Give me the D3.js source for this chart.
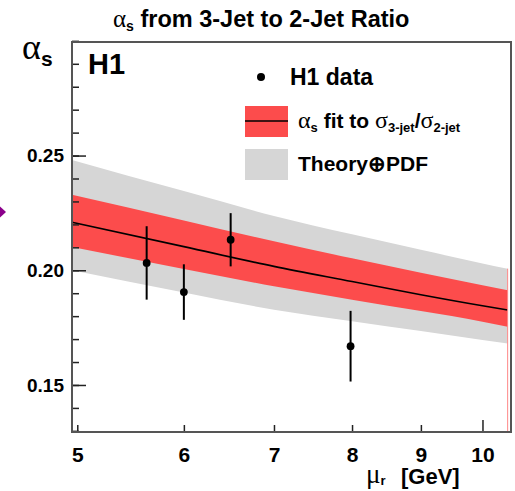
<!DOCTYPE html>
<html>
<head>
<meta charset="utf-8">
<script src="https://cdn.jsdelivr.net/npm/d3@7"></script>
<style>
  body { margin: 0; background: #fff; }
  text { font-family: "Liberation Sans", Arial, sans-serif; font-weight: bold; }
  .greek { font-family: "Liberation Serif", serif; font-weight: normal; }
</style>
</head>
<body>
<div id="chart"></div>
<script>
// data
var points_mu = [5.63, 6.0, 6.5, 7.98];
var points_as = [0.2032, 0.1905, 0.2133, 0.1669];
var points_err = [0.0160, 0.0121, 0.0116, 0.0154];

var band_mu = [4.955, 6, 7, 8, 9, 10, 10.44];
var fit_as = [0.2209, 0.2103, 0.2017, 0.1951, 0.1893, 0.1845, 0.1827];
var fit_lo = [0.2101, 0.2006, 0.1930, 0.1872, 0.1822, 0.1776, 0.1754];
var fit_hi = [0.2329, 0.2217, 0.2126, 0.2052, 0.1989, 0.1935, 0.1913];
var theo_lo = [0.2000, 0.1903, 0.1828, 0.1778, 0.1735, 0.1696, 0.1681];
var theo_hi = [0.2481, 0.2345, 0.2237, 0.2157, 0.2089, 0.2030, 0.2007];

var marker_as = 0.2254; // purple arrow on the left edge

var x_ticks = [5, 6, 7, 8, 9, 10];
var y_major = [0.15, 0.20, 0.25];
var y_minor = d3.range(13, 31).map(function(d) { return d / 100; });

var W = 515, H = 491;
var frame = {left: 72, right: 511, top: 42, bottom: 432};

var svg = d3.select("#chart").append("svg")
    .attr("width", W)
    .attr("height", H);

svg.append("rect").attr("width", W).attr("height", H).attr("fill", "#fff");

var x = d3.scaleLog().domain([4.955, 10.5]).range([frame.left, frame.right]);
var y = d3.scaleLinear().domain([0.1295, 0.2995]).range([frame.bottom, frame.top]);

// bands
var band = band_mu.map(function(m, i) {
  return {mu: m, c: fit_as[i], flo: fit_lo[i], fhi: fit_hi[i], tlo: theo_lo[i], thi: theo_hi[i]};
});

var area = d3.area().curve(d3.curveMonotoneX).x(function(d) { return x(d.mu); });

svg.append("path").datum(band)
    .attr("fill", "#d6d6d6")
    .attr("d", area.y0(function(d) { return y(d.tlo); }).y1(function(d) { return y(d.thi); }));

svg.append("path").datum(band)
    .attr("fill", "#fc4c4c")
    .attr("d", area.y0(function(d) { return y(d.flo); }).y1(function(d) { return y(d.fhi); }));

svg.append("path").datum(band)
    .attr("fill", "none")
    .attr("stroke", "#000")
    .attr("stroke-width", 1.6)
    .attr("d", d3.line().curve(d3.curveMonotoneX)
      .x(function(d) { return x(d.mu); })
      .y(function(d) { return y(d.c); }));

// thin red edge at the end of the band
var last = band[band.length - 1];
svg.append("line")
    .attr("x1", x(last.mu)).attr("x2", x(last.mu))
    .attr("y1", y(last.thi)).attr("y2", frame.bottom)
    .attr("stroke", "#f88").attr("stroke-width", 1);

// data points
var pts = points_mu.map(function(m, i) { return {mu: m, a: points_as[i], e: points_err[i]}; });

svg.selectAll(".err").data(pts).enter().append("line")
    .attr("class", "err")
    .attr("x1", function(d) { return x(d.mu); })
    .attr("x2", function(d) { return x(d.mu); })
    .attr("y1", function(d) { return y(d.a - d.e); })
    .attr("y2", function(d) { return y(d.a + d.e); })
    .attr("stroke", "#000").attr("stroke-width", 2);

svg.selectAll(".pt").data(pts).enter().append("circle")
    .attr("class", "pt")
    .attr("cx", function(d) { return x(d.mu); })
    .attr("cy", function(d) { return y(d.a); })
    .attr("r", 3.9)
    .attr("fill", "#000");

// axes
var yAxis = svg.append("g").attr("transform", "translate(" + frame.left + ",0)")
    .call(d3.axisLeft(y).tickValues(y_major).tickSize(-14).tickPadding(8)
      .tickFormat(d3.format(".2f")));
svg.append("g").attr("transform", "translate(" + frame.left + ",0)")
    .call(d3.axisLeft(y).tickValues(y_minor).tickSize(-7).tickFormat(""));

var xAxis = svg.append("g").attr("transform", "translate(0," + frame.bottom + ")")
    .call(d3.axisBottom(x).tickValues(x_ticks).tickSize(-7).tickPadding(15)
      .tickFormat(d3.format("d")));
xAxis.selectAll(".tick line").attr("y2", function(d) { return d === 10 ? -12 : -7; });

svg.selectAll(".domain").remove();
svg.selectAll(".tick line").attr("stroke", "#222").attr("stroke-width", 1.5);
yAxis.selectAll("text").attr("font-size", 19).attr("fill", "#000");
xAxis.selectAll("text").attr("font-size", 21).attr("fill", "#000");

// frame
svg.append("rect")
    .attr("x", frame.left).attr("y", frame.top)
    .attr("width", frame.right - frame.left).attr("height", frame.bottom - frame.top)
    .attr("fill", "none").attr("stroke", "#555").attr("stroke-width", 2);

// title
var title = svg.append("text").attr("x", 113).attr("y", 27).attr("font-size", 23.5);
title.append("tspan").attr("class", "greek").attr("font-size", 25).text("α");
title.append("tspan").attr("font-size", 14).attr("dy", 4).text("s");
title.append("tspan").attr("dy", -4).text(" from 3-Jet to 2-Jet Ratio");

// y label
var yl = svg.append("text").attr("x", 22).attr("y", 59);
yl.append("tspan").attr("class", "greek").attr("font-size", 36).text("α");
yl.append("tspan").attr("font-size", 21).attr("dy", 7).text("s");

svg.append("text").attr("x", 88).attr("y", 74).attr("font-size", 29).text("H1");

// x label
var xl = svg.append("text").attr("x", 366).attr("y", 483).attr("font-size", 22);
xl.append("tspan").attr("class", "greek").attr("font-size", 27).text("μ");
xl.append("tspan").attr("font-size", 13).attr("dy", 2).text("r");
svg.append("text").attr("x", 401).attr("y", 484).attr("font-size", 22).text("[GeV]");

// legend
svg.append("circle").attr("cx", 261).attr("cy", 77).attr("r", 4).attr("fill", "#000");
svg.append("text").attr("x", 290).attr("y", 85).attr("font-size", 23).text("H1 data");

svg.append("rect").attr("x", 245).attr("y", 106).attr("width", 43).attr("height", 31).attr("fill", "#fc4c4c");
svg.append("line").attr("x1", 245).attr("x2", 288).attr("y1", 121).attr("y2", 121)
    .attr("stroke", "#000").attr("stroke-width", 1.6);
var l2 = svg.append("text").attr("x", 298).attr("y", 128).attr("font-size", 21);
l2.append("tspan").attr("class", "greek").attr("font-size", 24).text("α");
l2.append("tspan").attr("font-size", 13).attr("dy", 4).text("s");
l2.append("tspan").attr("dy", -4).text(" fit to ");
l2.append("tspan").attr("class", "greek").attr("font-size", 24).text("σ");
l2.append("tspan").attr("font-size", 13).attr("dy", 4).text("3-jet");
l2.append("tspan").attr("dy", -4).text("/");
l2.append("tspan").attr("class", "greek").attr("font-size", 24).text("σ");
l2.append("tspan").attr("font-size", 13).attr("dy", 4).text("2-jet");

svg.append("rect").attr("x", 245).attr("y", 149).attr("width", 43).attr("height", 31).attr("fill", "#d6d6d6");
svg.append("text").attr("x", 298).attr("y", 171).attr("font-size", 21).text("Theory⊕PDF");

// purple marker at left edge
var my = y(marker_as);
svg.append("path")
    .attr("d", "M0," + (my - 5.5) + "L6," + my + "L0," + (my + 5.5) + "Z")
    .attr("fill", "#8b008b");
</script>
</body>
</html>
